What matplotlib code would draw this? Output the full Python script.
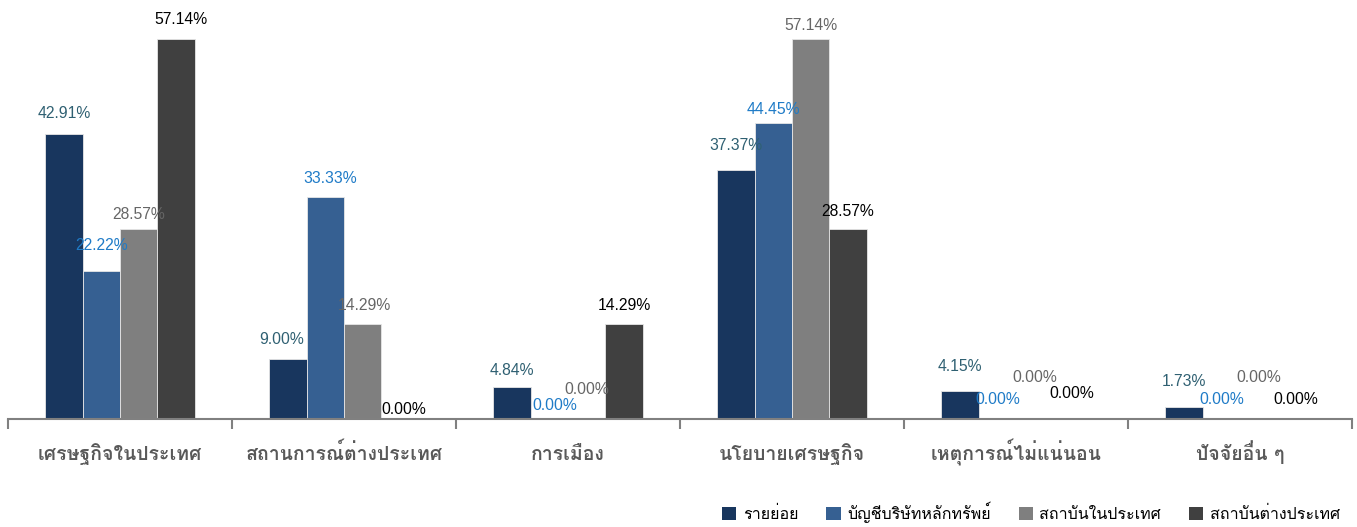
import numpy as np
import matplotlib
matplotlib.use('Agg')
import matplotlib.pyplot as plt
from matplotlib.patches import Patch

# Factors and share of each investor group (%)
categories = ['เศรษฐกิจในประเทศ', 'สถานการณ์ต่างประเทศ', 'การเมือง',
              'นโยบายเศรษฐกิจ', 'เหตุการณ์ไม่แน่นอน', 'ปัจจัยอื่น ๆ']
series_names = ['รายย่อย', 'บัญชีบริษัทหลักทรัพย์', 'สถาบันในประเทศ', 'สถาบันต่างประเทศ']
retail = [42.91, 9.00, 4.84, 37.37, 4.15, 1.73]
prop_trade = [22.22, 33.33, 0.00, 44.45, 0.00, 0.00]
local_inst = [28.57, 14.29, 0.00, 57.14, 0.00, 0.00]
foreign_inst = [57.14, 0.00, 14.29, 28.57, 0.00, 0.00]
series = [retail, prop_trade, local_inst, foreign_inst]

bar_colors = ['#18365e', '#366092', '#7f7f7f', '#404040']
label_colors = ['#2f6072', '#1f7bc7', '#666666', '#000000']

# label nudges in pixels (dx, dy above the bar top)
label_dx = [[0, -6, 0, 0, 0, 0],
            [0, 5, 5, 0, 0, 0],
            [0, 2, 0, 0, 0, 0],
            [5, 4, 0, 0, 0, 0]]
label_dy = [[20, 20, 16, 25, 25, 26],
            [26, 19, 14, 14, 19, 20],
            [15, 18, 30, 14, 42, 41],
            [20, 10, 18, 18, 25, 20]]

thai = ['Loma', 'DejaVu Sans']
num_font = 'Liberation Sans'

fig = plt.figure(figsize=(13.57, 5.27), dpi=100)
ax = fig.add_axes([8 / 1357, 108 / 527, 1344 / 1357, 399 / 527])

x = np.arange(len(categories))
w = 1 / 6
for j, vals in enumerate(series):
    pos = x + (j - 1.5) * w
    ax.bar(pos, vals, width=w, color=bar_colors[j], edgecolor='#e6e6e6',
           linewidth=0.6)
    for i, v in enumerate(vals):
        ax.annotate('%.2f%%' % v, (pos[i], v),
                    xytext=(label_dx[j][i], label_dy[j][i]),
                    textcoords='offset pixels', ha='center', va='center',
                    fontsize=11.3, color=label_colors[j], family=num_font)

ax.set_xlim(-0.5, len(categories) - 0.5)
ax.set_ylim(0, 60)
ax.set_yticks([])
for s in ['top', 'left', 'right']:
    ax.spines[s].set_visible(False)
ax.spines['bottom'].set_color('#808080')
ax.spines['bottom'].set_linewidth(1.5)

# category names on a common baseline under the axis
ax.set_xticks([])
ax.set_xticks(np.arange(-0.5, len(categories)), minor=True)
ax.tick_params(axis='x', which='minor', length=7, width=1.5,
               color='#808080', direction='out')
for i, name in enumerate(categories):
    ax.annotate(name, (i, 0), xycoords=('data', 'axes fraction'),
                xytext=(0, -41), textcoords='offset pixels', ha='center',
                va='baseline', family=thai, fontsize=14, fontweight='bold',
                color='#595959', annotation_clip=False)

handles = [Patch(facecolor=c, edgecolor='none') for c in bar_colors]
fig.legend(handles, series_names, loc='center right',
           bbox_to_anchor=(0.998, 1 - 512 / 527), ncol=4, frameon=False,
           prop={'family': thai, 'size': 11.5}, handlelength=0.9,
           handleheight=0.9, handletextpad=0.4, columnspacing=1.75)

fig.savefig('out.png')
